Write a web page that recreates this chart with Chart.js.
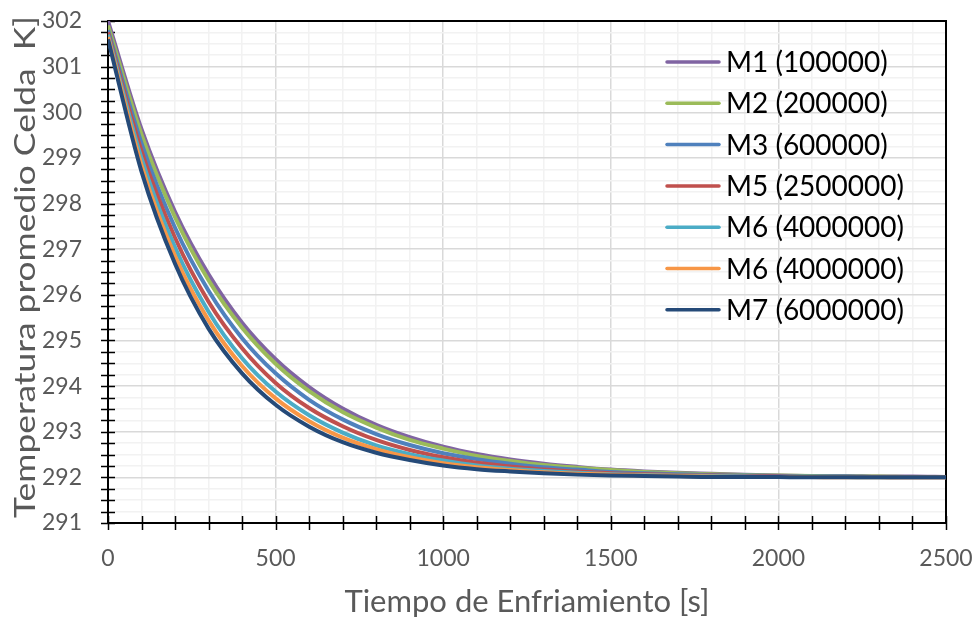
<!DOCTYPE html>
<html>
<head>
<meta charset="utf-8">
<script src="https://cdn.jsdelivr.net/npm/chart.js@4.4.0/dist/chart.umd.min.js"></script>
<style>
html,body{margin:0;padding:0;background:#ffffff;}
#wrap{width:977px;height:618px;}
</style>
</head>
<body>
<div id="wrap"><canvas id="c" width="977" height="618"></canvas></div>
<script>
// ---- data ----
const timeSeconds = [0,100,200,300,400,500,600,700,800,900,1000,1100,1200,1300,1400,1500,1600,1700,1800,1900,2000,2100,2200,2300,2400,2500];
const m1 = [302.00,299.63,297.82,296.45,295.39,294.59,293.98,293.51,293.15,292.88,292.67,292.51,292.39,292.30,292.23,292.17,292.13,292.10,292.08,292.06,292.04,292.03,292.03,292.02,292.02,292.01];
const m2 = [301.90,299.51,297.70,296.32,295.28,294.49,293.89,293.43,293.09,292.82,292.63,292.47,292.36,292.27,292.21,292.16,292.12,292.09,292.07,292.05,292.04,292.03,292.02,292.02,292.01,292.01];
const m3 = [301.80,299.32,297.47,296.09,295.05,294.28,293.70,293.27,292.95,292.71,292.53,292.40,292.30,292.22,292.17,292.12,292.09,292.07,292.05,292.04,292.03,292.02,292.02,292.01,292.01,292.01];
const m5 = [301.75,299.15,297.25,295.85,294.83,294.07,293.52,293.12,292.82,292.60,292.44,292.32,292.24,292.17,292.13,292.09,292.07,292.05,292.04,292.03,292.02,292.01,292.01,292.01,292.00,292.00];
const m6a = [301.70,298.99,297.04,295.63,294.61,293.88,293.36,292.98,292.70,292.51,292.37,292.26,292.19,292.14,292.10,292.07,292.05,292.04,292.03,292.02,292.01,292.01,292.01,292.00,292.00,292.00];
const m6b = [301.65,298.84,296.85,295.44,294.44,293.73,293.23,292.87,292.62,292.44,292.31,292.22,292.16,292.11,292.08,292.06,292.04,292.03,292.02,292.01,292.01,292.01,292.00,292.00,292.00,292.00];
const m7 = [301.60,298.70,296.68,295.26,294.28,293.59,293.11,292.77,292.54,292.38,292.26,292.18,292.13,292.09,292.06,292.04,292.03,292.02,292.01,292.01,292.01,292.00,292.00,292.00,292.00,292.00];

const seriesLabels = ['M1 (100000)','M2 (200000)','M3 (600000)','M5 (2500000)','M6 (4000000)','M6 (4000000)','M7 (6000000)'];
const seriesValues = [m1,m2,m3,m5,m6a,m6b,m7];
const seriesColors = ['#8064A2','#9BBB59','#4F81BD','#C0504D','#4BACC6','#F79646','#254A78'];

const xTickLabels = [0,500,1000,1500,2000,2500];
const yTickLabels = [291,292,293,294,295,296,297,298,299,300,301,302];
const xMinorStep = 100;
const yMinorStep = 0.25;

const xTitle = 'Tiempo de Enfriamiento [s]';
const yTitle = 'Temperatura promedio Celda  K]';

// ---- chart ----
const FONT = 'Lato';
const datasets = seriesValues.map((vals, i) => ({
  label: seriesLabels[i],
  data: timeSeconds.map((t, k) => ({x: t, y: vals[k]})),
  borderColor: seriesColors[i],
  backgroundColor: seriesColors[i],
  borderWidth: 4,
  pointRadius: 0,
  fill: false,
  cubicInterpolationMode: 'monotone',
  order: seriesValues.length - i
}));

function stepTicks(min, max, step){
  const out = [];
  const n = Math.round((max - min) / step);
  for (let i = 0; i <= n; i++) out.push({value: +(min + i * step).toFixed(4)});
  return out;
}

const framePlugin = {
  id: 'frame',
  beforeDatasetsDraw(chart){
    const {ctx, chartArea: a, scales: {x, y}} = chart;
    ctx.save();
    ctx.strokeStyle = '#000000';
    ctx.lineWidth = 1.5;
    ctx.beginPath();
    x.ticks.forEach(t => { const px = Math.round(x.getPixelForValue(t.value)) + 0.5; ctx.moveTo(px, a.bottom - 7); ctx.lineTo(px, a.bottom + 7); });
    y.ticks.forEach(t => { const py = Math.round(y.getPixelForValue(t.value)) + 0.5; ctx.moveTo(a.left - 7, py); ctx.lineTo(a.left + 7, py); });
    ctx.stroke();
    ctx.lineWidth = 2;
    ctx.strokeRect(a.left, a.top, a.right - a.left, a.bottom - a.top);
    ctx.restore();
  },
  afterDraw(chart){
    const {ctx} = chart;
    ctx.save();
    // legend
    const x0 = 667, x1 = 719, tx = 726, y0 = 62, dy = 41.3;
    chart.data.datasets.forEach((ds, i) => {
      const yy = y0 + i * dy;
      ctx.strokeStyle = ds.borderColor;
      ctx.lineWidth = 3.5;
      ctx.lineCap = 'round';
      ctx.beginPath(); ctx.moveTo(x0, yy); ctx.lineTo(x1, yy); ctx.stroke();
      ctx.fillStyle = '#000000';
      ctx.font = '28px ' + FONT;
      ctx.textBaseline = 'middle';
      ctx.textAlign = 'left';
      ctx.fillText(ds.label, tx, yy + 1);
    });
    // y axis title (stretched along its length like the reference)
    ctx.font = '29px ' + FONT;
    ctx.fillStyle = '#595959';
    ctx.textAlign = 'center';
    ctx.textBaseline = 'middle';
    const w = ctx.measureText(yTitle).width;
    const targetLen = 502;
    ctx.translate(26, 267);
    ctx.rotate(-Math.PI / 2);
    ctx.scale(targetLen / w, 1);
    ctx.fillText(yTitle, 0, 0);
    ctx.restore();
  }
};

new Chart(document.getElementById('c'), {
  type: 'line',
  data: {datasets},
  options: {
    responsive: false,
    animation: false,
    devicePixelRatio: 1,
    layout: {padding: {left: 0, right: 31, top: 21, bottom: 0}},
    plugins: {legend: {display: false}, tooltip: {enabled: false}},
    scales: {
      x: {
        type: 'linear', min: 0, max: 2500,
        afterBuildTicks: s => { s.ticks = stepTicks(0, 2500, xMinorStep); },
        afterFit: s => { s.height = 95; s.paddingLeft = 0; s.paddingRight = 0; },
        grid: {color: c => (c.tick && xTickLabels.includes(c.tick.value)) ? '#D9D9D9' : '#F2F2F2', lineWidth: 1.5, drawTicks: false},
        border: {display: false},
        ticks: {autoSkip: false, maxRotation: 0, padding: 22, color: '#595959', font: {family: FONT, size: 23},
          callback: v => xTickLabels.includes(v) ? String(v) : ''},
        title: {display: true, text: xTitle, color: '#595959', font: {family: FONT, size: 31}, padding: {top: 0, bottom: -3}}
      },
      y: {
        type: 'linear', min: 291, max: 302,
        afterBuildTicks: s => { s.ticks = stepTicks(291, 302, yMinorStep); },
        afterFit: s => { s.width = 108; s.paddingTop = 0; s.paddingBottom = 0; },
        grid: {color: c => (c.tick && yTickLabels.includes(c.tick.value)) ? '#D9D9D9' : '#F2F2F2', lineWidth: 1.5, drawTicks: false},
        border: {display: false},
        ticks: {autoSkip: false, padding: 26, color: '#595959', font: {family: FONT, size: 23},
          callback: v => yTickLabels.includes(v) ? String(v) : ''},
        title: {display: false}
      }
    }
  },
  plugins: [framePlugin]
});
</script>
</body>
</html>
